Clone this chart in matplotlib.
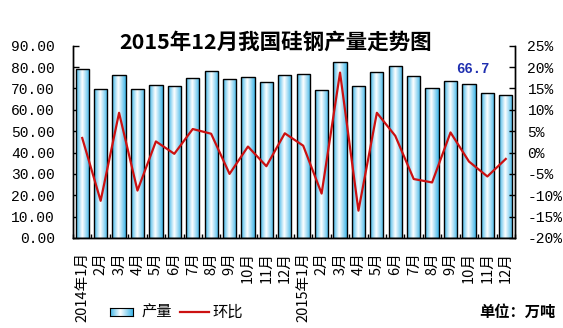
import numpy as np
import matplotlib
matplotlib.use('Agg')
import matplotlib.pyplot as plt
from matplotlib.colors import LinearSegmentedColormap
from matplotlib.lines import Line2D

plt.rcParams['font.family'] = ['Noto Sans CJK SC', 'DejaVu Sans']

# ============================================================
# DATA
# ============================================================
months = ["2014年1月", "2月", "3月", "4月", "5月", "6月", "7月", "8月", "9月", "10月", "11月", "12月",
          "2015年1月", "2月", "3月", "4月", "5月", "6月", "7月", "8月", "9月", "10月", "11月", "12月"]
output = [79.0, 69.6, 76.2, 69.6, 71.5, 71.0, 74.8, 78.0, 74.3, 75.2, 72.9, 76.2,
          76.6, 69.2, 82.2, 71.0, 77.6, 80.4, 75.7, 70.1, 73.4, 72.0, 67.8, 66.7]
mom = [3.4, -11.3, 9.3, -8.9, 2.6, -0.3, 5.5, 4.4, -5.0, 1.4, -3.2, 4.5,
       1.6, -9.6, 18.7, -13.6, 9.3, 3.9, -6.2, -7.0, 4.7, -2.1, -5.6, -1.5]
left_ticks = [0, 10, 20, 30, 40, 50, 60, 70, 80, 90]
right_ticks = [-20, -15, -10, -5, 0, 5, 10, 15, 20, 25]

title = "2015年12月我国硅钢产量走势图"
last_label = "66.7"
unit_text = "单位：万吨"

# ============================================================
# STYLE
# ============================================================
BAR_BLUE = '#3fb6e8'
LINE_RED = '#cc1111'
num_font = 'Liberation Mono'
grad_cmap = LinearSegmentedColormap.from_list(
    'bargrad', [(0.0, BAR_BLUE), (0.45, '#ffffff'), (1.0, BAR_BLUE)])
grad = np.linspace(0, 1, 64).reshape(1, -1)

fig = plt.figure(figsize=(5.63, 3.28), dpi=100, facecolor='white')
ax = fig.add_axes([0.1297, 0.2744, 0.785, 0.5863])
ax2 = ax.twinx()

x = np.arange(len(output))
width = 0.72
bars = ax.bar(x, output, width=width, facecolor='none', edgecolor='black', linewidth=1.0, zorder=3)
for b in bars:
    x0, y0 = b.get_x(), b.get_y()
    im = ax.imshow(grad, cmap=grad_cmap, aspect='auto', interpolation='bilinear',
                   extent=[x0, x0 + b.get_width(), y0, y0 + b.get_height()], zorder=2)
    im.set_clip_path(b)

ax.set_xlim(-0.5, len(output) - 0.5)
ax.set_ylim(0, 90)
ax.set_yticks(left_ticks)
ax.set_yticklabels([f"{v:.2f}" for v in left_ticks], fontfamily=num_font, fontsize=10.5)
ax.tick_params(axis='y', direction='in', length=4, width=1, pad=13)

ax.set_xticks(x)
ax.set_xticklabels(months, rotation=90, fontsize=10.5, va='top', ha='center')
ax.tick_params(axis='x', which='major', length=0, pad=10)
ax.set_xticks(np.arange(-0.5, len(output), 1.0), minor=True)
ax.tick_params(axis='x', which='minor', direction='in', length=3, width=1)

ax2.plot(x, mom, color=LINE_RED, linewidth=1.6, zorder=5)
ax2.set_ylim(-20, 25)
ax2.set_yticks(right_ticks)
ax2.set_yticklabels([f"{v}%" for v in right_ticks], fontfamily=num_font, fontsize=10.5)
ax2.tick_params(axis='y', direction='in', length=4, width=1, pad=9)

for a in (ax, ax2):
    a.spines['top'].set_visible(False)
    for s in ('left', 'right', 'bottom'):
        a.spines[s].set_linewidth(1.0)
ax.set_zorder(ax2.get_zorder() - 1)
ax2.patch.set_visible(False)
ax.patch.set_visible(False)

fig.text(0.489, 0.872, title, fontsize=15.5, fontweight='bold', ha='center', va='center')
fig.text(0.84, 0.79, last_label, fontsize=10, fontweight='bold', color='#1f2fb0',
         fontfamily=num_font, ha='center', va='center')

# legend (drawn by hand so the patch keeps its gradient)
lax = fig.add_axes([110 / 563, 1 - 316 / 328, 23 / 563, 8 / 328])
lax.imshow(grad, cmap=grad_cmap, aspect='auto', interpolation='bilinear', extent=[0, 1, 0, 1])
lax.set_xticks([])
lax.set_yticks([])
for s in lax.spines.values():
    s.set_linewidth(0.8)
fig.text(141 / 563, 1 - 312 / 328, "产量", fontsize=11, va='center', ha='left')
fig.add_artist(Line2D([180 / 563, 209 / 563], [1 - 312 / 328, 1 - 312 / 328],
                      color=LINE_RED, linewidth=1.6, transform=fig.transFigure))
fig.text(212 / 563, 1 - 312 / 328, "环比", fontsize=11, va='center', ha='left')
fig.text(556 / 563, 1 - 312 / 328, unit_text, fontsize=11, fontweight='bold', va='center', ha='right')

fig.savefig('out.png', dpi=100, facecolor='white')
